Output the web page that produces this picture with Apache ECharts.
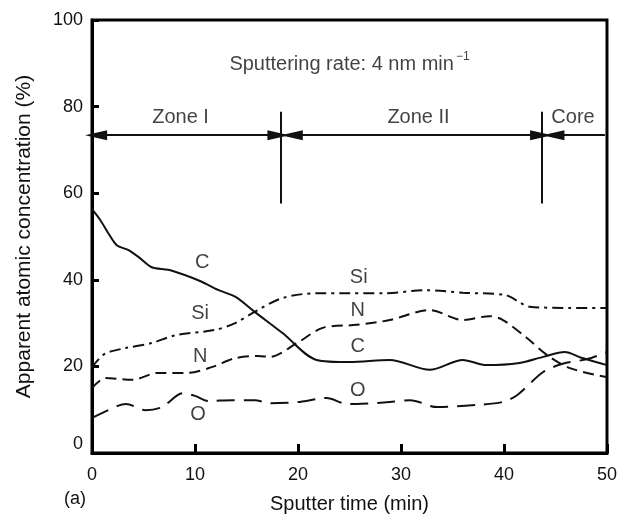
<!DOCTYPE html>
<html>
<head>
<meta charset="utf-8">
<script src="https://cdn.jsdelivr.net/npm/echarts@6/dist/echarts.min.js"></script>
<style>html,body{margin:0;padding:0;background:#fff}#c{width:620px;height:524px}</style>
</head>
<body>
<div id="c"></div>
<script>
// ---- data (sputter time in min, apparent atomic concentration in %) ----
var xTicks = [0, 10, 20, 30, 40, 50];
var yTicks = [0, 20, 40, 60, 80, 100];

var cX  = [0, 0.8, 1.6, 2.4, 3.5, 4.5, 5.8, 7.4, 9.0, 10.6, 12.3, 13.9, 15.8, 18.5, 21.8, 25, 28.9, 32.8, 36, 38.3, 41.5, 43.8, 45.9, 47.5, 50];
var cY  = [56.3, 53.8, 50.7, 48, 46.9, 45.3, 42.9, 42.3, 41.1, 39.6, 37.6, 36.1, 32.6, 27.7, 21.5, 21, 21.5, 19.2, 21.5, 20.3, 20.8, 22.2, 23.3, 22, 20.3];

var siX = [0, 0.4, 1.3, 3.2, 5.8, 8.1, 11.9, 13.9, 15.8, 18.5, 21.8, 25, 28.3, 32.5, 36, 40.1, 42.5, 46.4, 50];
var siY = [19.8, 21, 23, 24.2, 25.4, 27.2, 28.4, 30, 32.6, 35.8, 36.9, 36.9, 36.9, 37.6, 37, 36.5, 33.8, 33.5, 33.5];

var nX  = [0, 1.3, 3.9, 6.4, 9.3, 11.7, 13.9, 16.1, 17.3, 19.9, 22.4, 25.7, 28.9, 32.8, 36, 38.6, 39.9, 42.2, 44.2, 46.4, 50];
var nY  = [15, 17.3, 16.9, 18.5, 18.5, 19.9, 21.9, 22.4, 22.2, 25.4, 28.9, 29.6, 30.7, 33, 30.7, 31.6, 30.7, 26.6, 22.6, 19.6, 17.5];

var oX  = [0, 2.5, 3.3, 5.2, 6.8, 8.8, 10, 11.3, 13.6, 15.8, 17.3, 20.2, 22.8, 24.4, 25.7, 28.9, 30.9, 33.5, 37.4, 39.9, 41.3, 43.8, 45.7, 48.1, 50];
var oY  = [8.1, 10.9, 11.3, 9.9, 10.6, 13.8, 13.2, 12.0, 12.2, 12.2, 11.5, 11.8, 12.7, 11.5, 11.3, 11.8, 12.2, 10.6, 11.1, 11.8, 13.4, 18.7, 20.6, 21.7, 23.3];

// curve labels
var labelText = ['C', 'Si', 'N', 'O', 'Si', 'N', 'C', 'O'];
var labelX    = [10.7, 10.5, 10.5, 10.3, 25.9, 25.8, 25.8, 25.8];
var labelY    = [44.1, 32.3, 22.2, 8.8, 40.6, 33.0, 24.5, 14.5];

// zone annotations
var zoneText  = ['Zone I', 'Zone II', 'Core'];
var zoneX     = [8.6, 31.7, 46.7];
var zoneY     = [77.6, 77.6, 77.6];
var zoneArrowY = 73.4;
var zoneArrows = [[0.4, 18.1], [19.4, 43.6]];   // double-headed
var coreArrow  = [44.8, 49.8];                  // head at left only
var zoneBounds = [18.35, 43.7];
var boundY     = [57.6, 78.8];
var rateX = 25.0, rateY = 90.1;

function pairs(xs, ys) { return xs.map(function (x, i) { return [x, ys[i]]; }); }

var FONT = '"Liberation Sans", Arial, Helvetica, sans-serif';
var chart = echarts.init(document.getElementById('c'), null, {renderer: 'canvas'});

var lineBase = {type: 'line', smooth: 0.3, showSymbol: false, symbol: 'none', silent: true, z: 3};

var markLines = [];
zoneArrows.forEach(function (a) {
  markLines.push([{coord: [a[0], zoneArrowY], symbol: 'triangle'}, {coord: [a[1], zoneArrowY], symbol: 'triangle'}]);
});
markLines.push([{coord: [coreArrow[0], zoneArrowY], symbol: 'triangle'}, {coord: [coreArrow[1], zoneArrowY], symbol: 'none'}]);
zoneBounds.forEach(function (b) {
  markLines.push([{coord: [b, boundY[0]], symbol: 'none'}, {coord: [b, boundY[1]], symbol: 'none'}]);
});

var textPoints = labelText.map(function (t, i) { return {value: [labelX[i], labelY[i]], name: t}; })
  .concat(zoneText.map(function (t, i) { return {value: [zoneX[i], zoneY[i]], name: t}; }));

chart.setOption({
  animation: false,
  backgroundColor: '#fff',
  grid: {left: 92, right: 13, top: 20, bottom: 71, show: true, borderColor: '#000', borderWidth: 3, backgroundColor: 'transparent'},
  xAxis: {
    type: 'value', min: xTicks[0], max: xTicks[xTicks.length - 1], interval: 10,
    name: 'Sputter time (min)', nameLocation: 'middle', nameGap: 41,
    nameTextStyle: {fontFamily: FONT, fontSize: 20, color: '#111'},
    axisLine: {lineStyle: {color: '#000', width: 3}},
    axisTick: {inside: true, length: 9, lineStyle: {color: '#000', width: 3}},
    axisLabel: {fontFamily: FONT, fontSize: 18, color: '#111', margin: 13},
    splitLine: {show: false}
  },
  yAxis: {
    type: 'value', min: yTicks[0], max: yTicks[yTicks.length - 1], interval: 20,
    name: 'Apparent atomic concentration (%)', nameLocation: 'middle', nameGap: 57,
    nameTextStyle: {fontFamily: FONT, fontSize: 21, color: '#111'},
    axisLine: {lineStyle: {color: '#000', width: 3}},
    axisTick: {inside: true, length: 7, lineStyle: {color: '#000', width: 3}},
    axisLabel: {
      fontFamily: FONT, fontSize: 18, color: '#111', margin: 9,
      formatter: function (v) { return v === 0 ? '{z|0}' : String(v); },
      rich: {z: {fontFamily: FONT, fontSize: 18, color: '#111', padding: [0, 0, 18, 0]}}
    },
    splitLine: {show: false}
  },
  graphic: [{type: 'text', left: 64, top: 490, style: {text: '(a)', font: '18px ' + FONT, fill: '#111'}}],
  series: [
    Object.assign({}, lineBase, {name: 'C', data: pairs(cX, cY), lineStyle: {color: '#111', width: 2, type: 'solid'}}),
    Object.assign({}, lineBase, {name: 'Si', data: pairs(siX, siY), lineStyle: {color: '#111', width: 2, type: [11, 5, 3, 5]}}),
    Object.assign({}, lineBase, {name: 'N', data: pairs(nX, nY), lineStyle: {color: '#111', width: 2, type: [11, 6]}}),
    Object.assign({}, lineBase, {name: 'O', data: pairs(oX, oY), lineStyle: {color: '#111', width: 2, type: [18, 9]},
      markLine: {
        silent: true, animation: false, symbolSize: [10, 22],
        lineStyle: {color: '#111', width: 2, type: 'solid'},
        label: {show: false}, emphasis: {disabled: true},
        data: markLines
      }
    }),
    {
      type: 'scatter', silent: true, symbolSize: 0, z: 5,
      data: textPoints,
      label: {show: true, position: 'inside', formatter: '{b}', fontFamily: FONT, fontSize: 20, color: '#111'}
    },
    {
      type: 'scatter', silent: true, symbolSize: 0, z: 5,
      data: [{value: [rateX, rateY], name: 'rate'}],
      label: {
        show: true, position: 'inside',
        formatter: '{a|Sputtering rate: 4 nm min}{s|\u22121}',
        rich: {
          a: {fontFamily: FONT, fontSize: 20, color: '#111', verticalAlign: 'bottom', lineHeight: 24},
          s: {fontFamily: FONT, fontSize: 12, color: '#111', verticalAlign: 'top', lineHeight: 24, padding: [0, 0, 10, 2]}
        }
      }
    }
  ]
});
</script>
</body>
</html>
